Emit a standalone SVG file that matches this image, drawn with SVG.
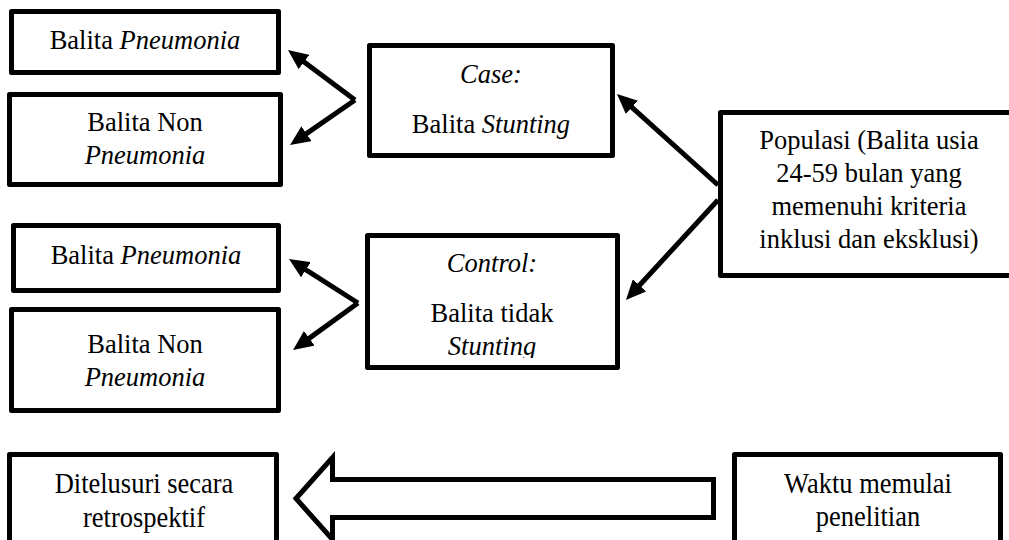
<svg xmlns="http://www.w3.org/2000/svg" width="1009" height="540" viewBox="0 0 1009 540" font-family="'Liberation Serif', 'Times New Roman', serif">
<style>
.box{fill:#fff;stroke:#000;stroke-width:5;stroke-linejoin:round}
.t{font-family:'Liberation Serif',serif;font-size:26.5px;fill:#000;text-anchor:middle}
.i{font-style:italic}
.con{fill:none;stroke:#000;stroke-width:5;stroke-linejoin:miter;marker-end:url(#ah)}
.big{fill:#fff;stroke:#000;stroke-width:5;stroke-linejoin:miter}
</style>
<defs>
<marker id="ah" viewBox="0 0 20 18" refX="4" refY="9" markerWidth="20" markerHeight="18" markerUnits="userSpaceOnUse" orient="auto">
<path d="M0,0 L20,9 L0,18 z" fill="#000"/>
</marker>
<clipPath id="ctrlclip"><rect x="370" y="238" width="245" height="120"/></clipPath>
</defs>
<rect width="1009" height="540" fill="#fff"/>

<g id="connectors">
<path class="con" d="M355,100 L300.8,59.6"/>
<path class="con" d="M355,100 L303.2,135.9"/>
<path class="con" d="M718,185 L628.9,104.7"/>
<path class="con" d="M718,200 L636.8,288.2"/>
<path class="con" d="M358,303 L302.5,267.6"/>
<path class="con" d="M358,303 L306,340.6"/>
<polygon id="time-arrow" class="big" points="296,498.5 332.5,457.5 332.5,479.5 713.5,479.5 713.5,517.5 332.5,517.5 332.5,539.5"/>
</g>

<g id="case-pneumonia">
<rect class="box" x="11.5" y="11.5" width="267" height="61"/>
<text class="t" x="145" y="49">Balita <tspan class="i">Pneumonia</tspan></text>
</g>
<g id="case-nonpneumonia">
<rect class="box" x="9.5" y="94.5" width="271" height="90"/>
<text class="t" x="145" y="131">Balita Non</text>
<text class="t i" x="145" y="164">Pneumonia</text>
</g>
<g id="case">
<rect class="box" x="369.5" y="45.5" width="243" height="110"/>
<text class="t i" x="491" y="83">Case:</text>
<text class="t" x="491" y="133">Balita <tspan class="i">Stunting</tspan></text>
</g>
<g id="populasi">
<rect class="box" x="720.5" y="112.5" width="300" height="163"/>
<text class="t" x="869" y="149">Populasi (Balita usia</text>
<text class="t" x="869" y="182">24-59 bulan yang</text>
<text class="t" x="869" y="215">memenuhi kriteria</text>
<text class="t" x="869" y="248">inklusi dan eksklusi)</text>
</g>
<g id="control-pneumonia">
<rect class="box" x="13.5" y="225.5" width="265" height="65"/>
<text class="t" x="146" y="264">Balita <tspan class="i">Pneumonia</tspan></text>
</g>
<g id="control-nonpneumonia">
<rect class="box" x="11.5" y="309.5" width="267" height="101"/>
<text class="t" x="145" y="353">Balita Non</text>
<text class="t i" x="145" y="386">Pneumonia</text>
</g>
<g id="control">
<rect class="box" x="367.5" y="235.5" width="250" height="132"/>
<g clip-path="url(#ctrlclip)">
<text class="t i" x="492" y="272">Control:</text>
<text class="t" x="492" y="322">Balita tidak</text>
<text class="t i" x="492" y="355">Stunting</text>
</g>
</g>
<g id="retrospektif">
<rect class="box" x="9.5" y="454.5" width="267" height="100"/>
<text class="t" transform="translate(144,493) scale(1,1.15)">Ditelusuri secara</text>
<text class="t" transform="translate(144,527) scale(1,1.15)">retrospektif</text>
</g>
<g id="waktu">
<rect class="box" x="734.5" y="454.5" width="266" height="100"/>
<text class="t" transform="translate(868,493) scale(1,1.15)">Waktu memulai</text>
<text class="t" transform="translate(868,526) scale(1,1.15)">penelitian</text>
</g>
</svg>
